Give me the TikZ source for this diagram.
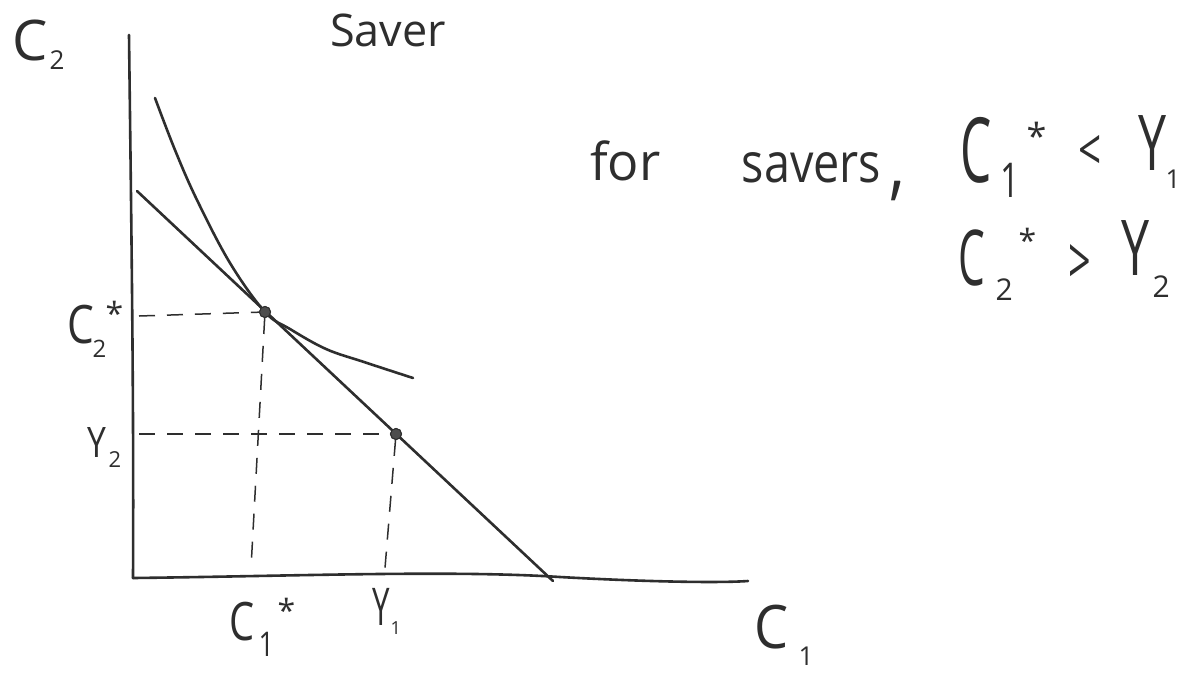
\documentclass[tikz,border=0pt]{standalone}
\usepackage{fontspec}
\setmainfont{Open Sans}
\usepackage{graphicx}
\definecolor{ink}{HTML}{2E2E2E}
\newcommand{\gl}[3]{{\fontsize{#1}{#1}\selectfont\scalebox{#2}[1]{#3}}}
\newcommand{\pc}[5]{\rlap{\hspace*{#1}\raisebox{#2}{\gl{#3}{#4}{#5}}}}
\begin{document}
\begin{tikzpicture}[x=1pt,y=-1pt,
  lab/.style={anchor=base west,inner sep=0pt,text=ink},
  curve/.style={draw=ink,line width=2.6pt,line cap=round,line join=round},
  guide/.style={draw=ink,line width=1.5pt,dash pattern=on 16pt off 12pt},
  dot/.style={circle,fill=ink!85,draw=ink,line width=1pt,inner sep=0pt,minimum size=11pt}]
\fill[white] (0,0) rectangle (1182,673);
\useasboundingbox (0,0) rectangle (1182,673);

% axes
\coordinate (ytop) at (129,35);
\coordinate (o) at (133,578);
\coordinate (xend) at (748,581);
\draw[curve] (ytop) .. controls (131,200) and (134,400) .. (o);
\draw[curve] (o) .. controls (300,576) and (450,570) .. (560,577) .. controls (650,582) and (720,583) .. (xend);

% budget line
\coordinate (b0) at (137,191);
\coordinate (b1) at (553,581);
\draw[curve] (b0) -- (b1);

% indifference curve
\draw[curve] plot[smooth,tension=0.6] coordinates {(155,98) (175,150) (197,200) (230,263) (265,312) (290,329) (326,349) (364,362) (413,378)};

% guide points
\coordinate (c2ax) at (139,316);
\coordinate (c1ax) at (251,568);
\coordinate (y2ax) at (139,434);
\coordinate (y1ax) at (385,568);
\node[dot] (cstar) at (265,312) {};
\node[dot] (ypt) at (396,434) {};
\draw[guide] (c2ax) -- (cstar);
\draw[guide] (cstar) -- (c1ax);
\draw[guide] (y2ax) -- (ypt);
\draw[guide] (ypt) -- (y1ax);
\node[dot] at (cstar) {};
\node[dot] at (ypt) {};

% axis labels
\node[lab] (lc2) at (12,60) {\pc{0pt}{0pt}{56}{1}{C}\pc{37pt}{-9pt}{26}{1}{2}};
\node[lab] (lc1) at (754,648) {\pc{0pt}{0pt}{60}{0.9}{C}\pc{44pt}{-17pt}{26}{1}{1}};
\node[lab] (title) at (330,46) {\gl{45}{1}{Saver}};

% tick labels
\node[lab] (lc2s) at (67,343) {\pc{0pt}{0pt}{53}{0.8}{C}\pc{25pt}{-14pt}{24}{1}{2}\pc{38pt}{18pt}{32}{1}{*}};
\node[lab] (ly2) at (87,457) {\pc{0pt}{0pt}{42}{0.8}{Y}\pc{21pt}{-10pt}{22}{1}{2}};
\node[lab] (lc1s) at (229,640) {\pc{0pt}{0pt}{53}{0.75}{C}\pc{29pt}{-16pt}{34}{0.8}{1}\pc{48pt}{18pt}{32}{1}{*}};
\node[lab] (ly1) at (372,625) {\pc{0pt}{0pt}{52}{0.6}{Y}\pc{18pt}{-9pt}{18}{1}{1}};

% note
\node[lab] (for) at (590,180) {\gl{52}{1}{for}};
\node[lab] (savers) at (741,182) {\pc{0pt}{0pt}{55}{0.85}{savers}\pc{148pt}{-8pt}{80}{0.8}{,}};
\node[lab] (ineq1) at (960,182) {\pc{0pt}{0pt}{90}{0.55}{C}\pc{40pt}{-15pt}{48}{0.7}{1}\pc{66pt}{33pt}{36}{1}{*}\pc{118pt}{12pt}{58}{0.7}{<}\pc{178pt}{12pt}{77}{0.65}{Y}\pc{205pt}{-6pt}{26}{1}{1}};
\node[lab] (ineq2) at (958,285) {\pc{0pt}{0pt}{77}{0.55}{C}\pc{37pt}{-15pt}{30}{1}{2}\pc{60pt}{33pt}{32}{1}{*}\pc{110pt}{1pt}{66}{0.6}{>}\pc{163pt}{10pt}{77}{0.65}{Y}\pc{194pt}{-12pt}{30}{1}{2}};
\end{tikzpicture}
\end{document}
